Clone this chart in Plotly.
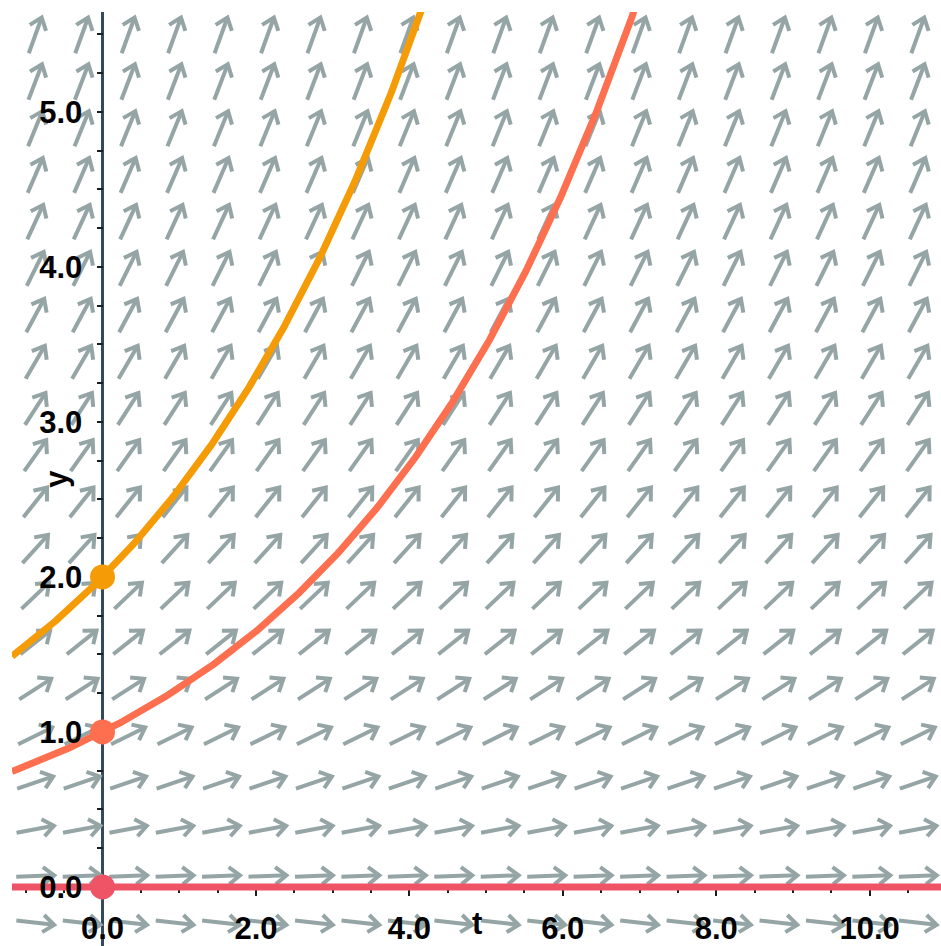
import numpy as np
import plotly.graph_objects as go

# Exponential growth model dy/dt = k * y
growth_rate = 0.25
initial_values = [0.0, 1.0, 2.0]
curve_colors = ["#ee5366", "#fd6f4f", "#f59b05"]

x_tick_vals = [0, 2, 4, 6, 8, 10]
x_tick_text = ["0.0", "2.0", "4.0", "6.0", "8.0", "10.0"]
y_tick_vals = [0, 1, 2, 3, 4, 5]
y_tick_text = ["0.0", "1.0", "2.0", "3.0", "4.0", "5.0"]

x_range = [-1.18, 10.93]
y_range = [-0.381, 5.645]

# figure geometry
FIG_W, FIG_H = 941, 946
M_L, M_R, M_T, M_B = 12, 0, 12, 0
plot_w = FIG_W - M_L - M_R
plot_h = FIG_H - M_T - M_B
sx = plot_w / (x_range[1] - x_range[0])   # px per unit t
sy = plot_h / (y_range[1] - y_range[0])   # px per unit y

ARROW_COLOR = "#95a5a6"
AXIS_COLOR = "#34495e"
TICK_COLOR = "#1c1c1c"
N_GRID = 20

# slope field: arrows of constant screen length along (1, f(t, y))
shaft_len = 38.0
head_len = 14.0
head_ang = np.radians(38)
ax_x, ax_y = [], []
for i in range(N_GRID):
    tc = x_range[0] + (i + 0.5) * (x_range[1] - x_range[0]) / N_GRID
    for j in range(N_GRID):
        yc = y_range[0] + (j + 0.5) * (y_range[1] - y_range[0]) / N_GRID
        slope = growth_rate * yc
        dxp, dyp = sx, slope * sy
        n = np.hypot(dxp, dyp)
        ux, uy = dxp / n, dyp / n
        tail = (-ux * shaft_len / 2, -uy * shaft_len / 2)
        tip = (ux * shaft_len / 2, uy * shaft_len / 2)
        wings = []
        for a in (head_ang, -head_ang):
            # rotate the backward direction by +/- a
            bx = -ux * np.cos(a) + uy * np.sin(a)
            by = -ux * np.sin(a) - uy * np.cos(a)
            wings.append((tip[0] + head_len * bx, tip[1] + head_len * by))
        for p in (tail, tip, None, wings[0], tip, wings[1], None):
            if p is None:
                ax_x.append(None)
                ax_y.append(None)
            else:
                ax_x.append(tc + p[0] / sx)
                ax_y.append(yc + p[1] / sy)

fig = go.Figure()
fig.add_trace(go.Scatter(x=ax_x, y=ax_y, mode="lines",
                         line=dict(color=ARROW_COLOR, width=4),
                         hoverinfo="skip"))

t = np.linspace(x_range[0], x_range[1], 600)
for y0, col in zip(initial_values, curve_colors):
    fig.add_trace(go.Scatter(x=t, y=y0 * np.exp(growth_rate * t), mode="lines",
                             line=dict(color=col, width=7)))
for y0, col in zip(initial_values, curve_colors):
    fig.add_trace(go.Scatter(x=[0], y=[y0], mode="markers",
                             marker=dict(color=col, size=25)))

# empty trace so the label-only overlay axes get a subplot
fig.add_trace(go.Scatter(x=[], y=[], xaxis="x2", yaxis="y2", showlegend=False))

tick_font = dict(family="Liberation Sans, Arial, sans-serif", size=31,
                 color="#000000", weight="bold")

x_pos = (0 - y_range[0]) / (y_range[1] - y_range[0])
y_pos = (0 - x_range[0]) / (x_range[1] - x_range[0])

# tick marks sit beneath the curves; tick labels sit on top
x_ticks = dict(range=x_range, showgrid=False, showline=False,
               zeroline=True, zerolinecolor=AXIS_COLOR, zerolinewidth=3,
               anchor="free", position=x_pos, automargin=False,
               layer="below traces",
               tickmode="array", tickvals=x_tick_vals, showticklabels=False,
               ticks="outside", ticklen=8, tickwidth=2, tickcolor=TICK_COLOR,
               minor=dict(tickmode="linear", tick0=0, dtick=0.5, ticks="outside",
                          ticklen=5, tickwidth=2, tickcolor=TICK_COLOR,
                          showgrid=False))
x_labels = dict(range=x_range, showgrid=False, showline=False, zeroline=False,
                overlaying="x", anchor="free", position=x_pos, automargin=False,
                layer="above traces",
                tickmode="array", tickvals=x_tick_vals, ticktext=x_tick_text,
                ticks="outside", ticklen=8, tickcolor="rgba(0,0,0,0)",
                tickfont=tick_font, ticklabelstandoff=6)
y_ticks = dict(range=y_range, showgrid=False, showline=False, zeroline=False,
               anchor="free", position=y_pos, automargin=False,
               layer="below traces",
               tickmode="array", tickvals=y_tick_vals, showticklabels=False,
               ticks="outside", ticklen=6, tickwidth=2, tickcolor=TICK_COLOR,
               minor=dict(tickmode="linear", tick0=0, dtick=0.25, ticks="outside",
                          ticklen=6, tickwidth=2, tickcolor=TICK_COLOR,
                          showgrid=False))
y_labels = dict(range=y_range, showgrid=False, showline=False, zeroline=False,
                overlaying="y", anchor="free", position=y_pos, automargin=False,
                layer="above traces",
                tickmode="array", tickvals=y_tick_vals, ticktext=y_tick_text,
                ticks="outside", ticklen=6, tickcolor="rgba(0,0,0,0)",
                tickfont=tick_font, ticklabelstandoff=8)

fig.update_layout(
    width=FIG_W, height=FIG_H,
    margin=dict(l=M_L, r=M_R, t=M_T, b=M_B),
    paper_bgcolor="white", plot_bgcolor="white",
    showlegend=False,
    xaxis=x_ticks, xaxis2=x_labels,
    yaxis=y_ticks, yaxis2=y_labels,
    annotations=[
        dict(text="t", xref="paper", yref="paper", x=0.5, y=0.0245,
             xanchor="center", yanchor="middle", showarrow=False,
             font=tick_font),
        dict(text="y", xref="paper", yref="paper", x=0.047, y=0.5,
             xanchor="center", yanchor="middle", showarrow=False,
             textangle=-90, font=tick_font),
    ],
)

fig.write_html("out.html")
